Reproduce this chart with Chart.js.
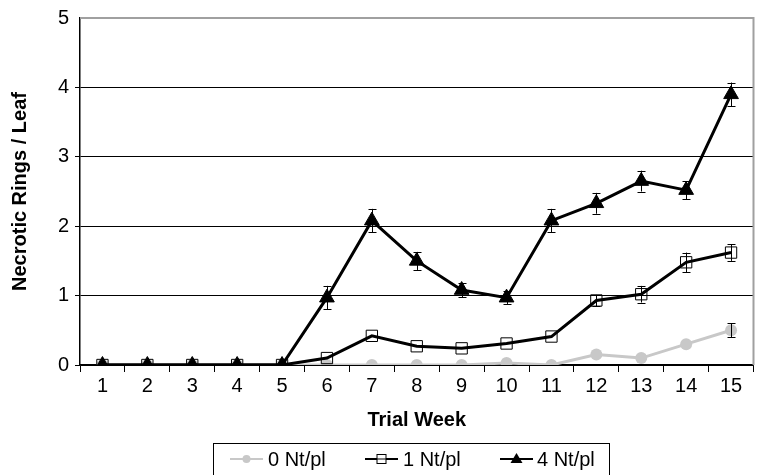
<!DOCTYPE html>
<html>
<head>
<meta charset="utf-8">
<script src="https://cdn.jsdelivr.net/npm/chart.js@4/dist/chart.umd.min.js"></script>
<style>
  html, body { margin: 0; padding: 0; background: #fff; }
  #wrap { width: 763px; height: 475px; position: relative; }
</style>
</head>
<body>
<div id="wrap"><canvas id="c" width="763" height="475"></canvas></div>
<script>
// Trial weeks along the x axis
const weeks = ['1','2','3','4','5','6','7','8','9','10','11','12','13','14','15'];

// Mean necrotic rings per leaf for each nematode density
const nt0 = [0, 0, 0, 0, 0, 0, 0, 0, 0, 0.03, 0, 0.15, 0.10, 0.30, 0.50];
const nt1 = [0, 0, 0, 0, 0, 0.10, 0.42, 0.27, 0.24, 0.31, 0.41, 0.93, 1.02, 1.48, 1.62];
const nt4 = [0, 0, 0, 0, 0, 0.97, 2.08, 1.50, 1.08, 0.97, 2.08, 2.33, 2.65, 2.52, 3.90];

// Standard errors (0 = no bar drawn)
const nt0Err = [0, 0, 0, 0, 0, 0, 0, 0, 0, 0, 0, 0, 0, 0, 0.10];
const nt1Err = [0, 0, 0, 0, 0, 0, 0, 0, 0, 0, 0, 0.08, 0.12, 0.14, 0.12];
const nt4Err = [0, 0, 0, 0, 0, 0.17, 0.17, 0.13, 0.10, 0.09, 0.17, 0.15, 0.15, 0.13, 0.17];

const yTicks = [0, 1, 2, 3, 4, 5];
const seriesNames = ['0 Nt/pl', '1 Nt/pl', '4 Nt/pl'];

const FONT = '"Liberation Sans", Arial, Helvetica, sans-serif';

// Vertical error bars with short caps
const errorBars = {
  id: 'errorBars',
  afterDatasetsDraw(chart) {
    const ctx = chart.ctx;
    const y = chart.scales.y;
    ctx.save();
    ctx.strokeStyle = '#000';
    ctx.lineWidth = 1;
    chart.data.datasets.forEach((ds, i) => {
      const meta = chart.getDatasetMeta(i);
      ds.errors.forEach((e, j) => {
        if (!e) return;
        const px = Math.round(meta.data[j].x) + 0.5;
        const top = y.getPixelForValue(ds.data[j] + e);
        const bot = y.getPixelForValue(ds.data[j] - e);
        ctx.beginPath();
        ctx.moveTo(px, top); ctx.lineTo(px, bot);
        ctx.moveTo(px - 4, Math.round(top) + 0.5); ctx.lineTo(px + 4, Math.round(top) + 0.5);
        ctx.moveTo(px - 4, Math.round(bot) + 0.5); ctx.lineTo(px + 4, Math.round(bot) + 0.5);
        ctx.stroke();
      });
    });
    ctx.restore();
  }
};

// Grey frame on top and right sides of the plot area
const frame = {
  id: 'frame',
  beforeDatasetsDraw(chart) {
    const a = chart.chartArea;
    const ctx = chart.ctx;
    ctx.save();
    ctx.strokeStyle = '#a0a0a0';
    ctx.lineWidth = 2;
    ctx.beginPath();
    ctx.moveTo(a.left, a.top);
    ctx.lineTo(a.right, a.top);
    ctx.lineTo(a.right, a.bottom);
    ctx.stroke();
    ctx.restore();
  }
};

// Boxed legend below the axis title, showing line + marker samples
const boxLegend = {
  id: 'boxLegend',
  afterDraw(chart) {
    const ctx = chart.ctx;
    ctx.save();
    ctx.strokeStyle = '#000';
    ctx.lineWidth = 1;
    ctx.strokeRect(213.5, 443.5, 396, 40);
    const items = [
      { x: 230, textX: 268 },
      { x: 365, textX: 403 },
      { x: 500, textX: 537 }
    ];
    const cy = 459;
    chart.data.datasets.forEach((ds, i) => {
      const it = items[i];
      ctx.strokeStyle = ds.borderColor;
      ctx.lineWidth = 2;
      ctx.beginPath();
      ctx.moveTo(it.x, cy); ctx.lineTo(it.x + 33, cy);
      ctx.stroke();
      const mx = it.x + 16.5;
      ctx.lineWidth = 1;
      if (ds.pointStyle === 'circle') {
        ctx.fillStyle = ds.pointBackgroundColor;
        ctx.beginPath(); ctx.arc(mx, cy, 4, 0, Math.PI * 2); ctx.fill();
      } else if (ds.pointStyle === 'rect') {
        ctx.fillStyle = '#fff';
        ctx.fillRect(mx - 4.5, cy - 4.5, 9, 9);
        ctx.strokeStyle = '#000';
        ctx.strokeRect(mx - 4.5, cy - 4.5, 9, 9);
        ctx.beginPath(); ctx.moveTo(mx - 4.5, cy); ctx.lineTo(mx + 4.5, cy); ctx.stroke();
      } else {
        ctx.fillStyle = '#000';
        ctx.beginPath();
        ctx.moveTo(mx, cy - 6); ctx.lineTo(mx + 6, cy + 4); ctx.lineTo(mx - 6, cy + 4);
        ctx.closePath(); ctx.fill();
      }
      ctx.fillStyle = '#000';
      ctx.font = '20px ' + FONT;
      ctx.textBaseline = 'middle';
      ctx.textAlign = 'left';
      ctx.fillText(seriesNames[i], it.textX, cy + 1);
    });
    ctx.restore();
  }
};

new Chart(document.getElementById('c'), {
  type: 'line',
  data: {
    labels: weeks,
    datasets: [
      {
        label: seriesNames[0], data: nt0, errors: nt0Err, order: 3,
        borderColor: '#c8c8c8', borderWidth: 3,
        pointStyle: 'circle', pointRadius: 6, pointBackgroundColor: '#c8c8c8',
        pointBorderColor: '#c8c8c8', pointBorderWidth: 0
      },
      {
        label: seriesNames[1], data: nt1, errors: nt1Err, order: 2,
        borderColor: '#000', borderWidth: 3,
        pointStyle: 'rect', pointRadius: 8, pointBackgroundColor: 'rgba(255,255,255,0)',
        pointBorderColor: '#000', pointBorderWidth: 1
      },
      {
        label: seriesNames[2], data: nt4, errors: nt4Err, order: 1,
        borderColor: '#000', borderWidth: 3,
        pointStyle: 'triangle', pointRadius: 8.5, pointBackgroundColor: '#000',
        pointBorderColor: '#000', pointBorderWidth: 1
      }
    ]
  },
  options: {
    responsive: false,
    animation: false,
    devicePixelRatio: 1,
    layout: { padding: { left: 0, right: 3, top: 15, bottom: 43 } },
    plugins: {
      legend: { display: false },
      tooltip: { enabled: false }
    },
    scales: {
      x: {
        type: 'category',
        offset: true,
        afterFit(s) { s.height = 67; },
        grid: { display: true, drawOnChartArea: false, drawTicks: true, tickLength: 7, color: '#000', offset: true },
        border: { display: true, color: '#000', width: 1.5 },
        ticks: { color: '#000', font: { family: FONT, size: 20 }, padding: 2, maxRotation: 0, autoSkip: false },
        title: { display: true, text: 'Trial Week', color: '#000', font: { family: FONT, size: 20, weight: 'bold' }, padding: { top: 0, bottom: 0 } }
      },
      y: {
        min: 0, max: 5,
        afterFit(s) { s.width = 80; },
        afterBuildTicks(s) { s.ticks = yTicks.map(v => ({ value: v })); },
        grid: {
          color: ctx => (ctx.tick && ctx.tick.value === 5) ? 'rgba(0,0,0,0)' : '#000',
          lineWidth: 1, tickLength: 5, drawTicks: true
        },
        border: { display: true, color: '#000', width: 1.5 },
        ticks: { color: '#000', font: { family: FONT, size: 20 }, padding: 6 },
        title: { display: true, text: 'Necrotic Rings / Leaf', color: '#000', font: { family: FONT, size: 20, weight: 'bold' }, padding: { top: 8, bottom: 0 } }
      }
    }
  },
  plugins: [frame, errorBars, boxLegend]
});
</script>
</body>
</html>
